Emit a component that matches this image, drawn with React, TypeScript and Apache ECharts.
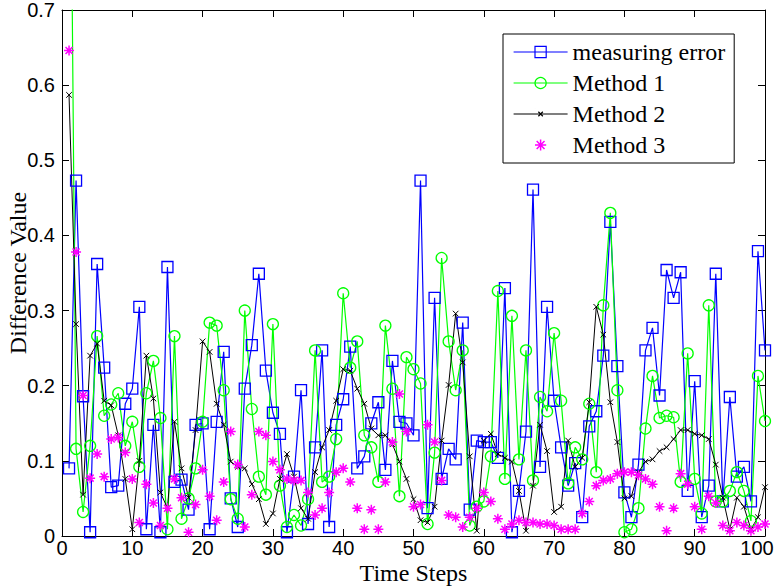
import React, { useEffect, useRef } from 'react';
import * as echarts from 'echarts';

// Time steps 1..100
const measuringError = [
  0.090, 0.473, 0.186, 0.005, 0.362, 0.224, 0.065, 0.067, 0.176, 0.196,
  0.305, 0.009, 0.148, 0.005, 0.358, 0.072, 0.075, 0.035, 0.148, 0.150,
  0.009, 0.152, 0.245, 0.050, 0.012, 0.196, 0.254, 0.349, 0.220, 0.164,
  0.136, 0.005, 0.079, 0.194, 0.016, 0.118, 0.247, 0.012, 0.148, 0.182,
  0.252, 0.090, 0.106, 0.150, 0.178, 0.088, 0.233, 0.152, 0.150, 0.134,
  0.473, 0.037, 0.317, 0.076, 0.116, 0.102, 0.284, 0.035, 0.127, 0.125,
  0.125, 0.104, 0.330, 0.005, 0.060, 0.139, 0.461, 0.092, 0.305, 0.180,
  0.118, 0.067, 0.097, 0.025, 0.146, 0.166, 0.240, 0.418, 0.226, 0.058,
  0.025, 0.095, 0.247, 0.277, 0.187, 0.354, 0.317, 0.351, 0.060, 0.206,
  0.025, 0.067, 0.349, 0.046, 0.185, 0.079, 0.092, 0.046, 0.379, 0.247,
];

const method1 = [
  1.200, 0.116, 0.032, 0.120, 0.266, 0.160, 0.175, 0.190, 0.120, 0.152,
  0.092, 0.190, 0.233, 0.157, 0.009, 0.266, 0.023, 0.050, 0.090, 0.152,
  0.284, 0.280, 0.194, 0.049, 0.023, 0.300, 0.169, 0.079, 0.055, 0.282,
  0.067, 0.012, 0.028, 0.014, 0.049, 0.247, 0.072, 0.079, 0.129, 0.323,
  0.224, 0.259, 0.134, 0.118, 0.072, 0.280, 0.196, 0.053, 0.238, 0.222,
  0.203, 0.016, 0.111, 0.370, 0.259, 0.194, 0.247, 0.014, 0.039, 0.046,
  0.106, 0.326, 0.076, 0.293, 0.102, 0.247, 0.074, 0.185, 0.166, 0.270,
  0.180, 0.070, 0.118, 0.102, 0.176, 0.085, 0.307, 0.430, 0.194, 0.005,
  0.009, 0.037, 0.143, 0.213, 0.157, 0.160, 0.158, 0.072, 0.243, 0.076,
  0.030, 0.307, 0.046, 0.046, 0.060, 0.085, 0.060, 0.020, 0.213, 0.153,
];

const method2 = [
  0.587, 0.282, 0.055, 0.240, 0.256, 0.180, 0.174, 0.134, 0.076, 0.009,
  0.100, 0.240, 0.183, 0.058, 0.037, 0.152, 0.090, 0.051, 0.141, 0.259,
  0.245, 0.176, 0.148, 0.099, 0.092, 0.090, 0.069, 0.049, 0.016, 0.030,
  0.076, 0.109, 0.079, 0.037, 0.023, 0.085, 0.118, 0.141, 0.180, 0.222,
  0.220, 0.196, 0.176, 0.143, 0.134, 0.134, 0.122, 0.099, 0.076, 0.049,
  0.021, 0.018, 0.039, 0.127, 0.201, 0.296, 0.231, 0.106, 0.007, 0.127,
  0.136, 0.109, 0.104, 0.099, 0.060, 0.007, 0.067, 0.148, 0.113, 0.032,
  0.039, 0.127, 0.092, 0.104, 0.178, 0.305, 0.268, 0.178, 0.125, 0.050,
  0.053, 0.085, 0.099, 0.102, 0.113, 0.118, 0.129, 0.141, 0.141, 0.136,
  0.134, 0.129, 0.095, 0.051, 0.009, 0.051, 0.039, 0.009, 0.025, 0.065,
];

const method3 = [
  0.646, 0.378, 0.187, 0.077, 0.109, 0.079, 0.129, 0.131, 0.111, 0.076,
  0.018, 0.069, 0.044, 0.014, 0.037, 0.076, 0.051, 0.005, 0.042, 0.088,
  0.053, 0.021, 0.072, 0.139, 0.095, 0.012, 0.055, 0.139, 0.134, 0.099,
  0.088, 0.076, 0.074, 0.074, 0.058, 0.028, 0.037, 0.058, 0.085, 0.090,
  0.072, 0.037, 0.009, 0.035, 0.009, 0.072, 0.125, 0.189, 0.139, 0.039,
  0.042, 0.148, 0.125, 0.074, 0.028, 0.025, 0.012, 0.025, 0.037, 0.058,
  0.046, 0.023, 0.009, 0.016, 0.021, 0.018, 0.018, 0.016, 0.016, 0.014,
  0.009, 0.009, 0.009, 0.030, 0.046, 0.067, 0.074, 0.076, 0.083, 0.085,
  0.085, 0.081, 0.076, 0.069, 0.039, 0.007, 0.037, 0.083, 0.069, 0.039,
  0.009, 0.053, 0.044, 0.014, 0.007, 0.018, 0.014, 0.007, 0.012, 0.016,
];

const seriesNames = ['measuring error', 'Method 1', 'Method 2', 'Method 3'];
const xTicks = { min: 0, max: 100, interval: 10 };
const yTicks = { min: 0, max: 0.7, interval: 0.1 };

const toPoints = (arr: number[]) => arr.map((v, i) => [i + 1, v]);

const X_SYMBOL = 'path://M0,0L0.01,0M3,3L7,7M7,3L3,7M10,10L9.99,10';
const STAR_SYMBOL = 'path://M5,0L5,10M0,5L10,5M1.5,1.5L8.5,8.5M8.5,1.5L1.5,8.5';

const sansFont = 'Liberation Sans, Arial, sans-serif';
const serifFont = 'Liberation Serif, Times New Roman, serif';

export default function App() {
  const ref = useRef<HTMLDivElement>(null);

  useEffect(() => {
    if (!ref.current) return;
    const chart = echarts.init(ref.current, null, { renderer: 'svg' });

    const axisCommon = {
      type: 'value' as const,
      axisLine: { show: true, onZero: false, lineStyle: { color: '#000', width: 1 } },
      axisTick: { show: true, inside: true, length: 7, lineStyle: { color: '#000', width: 1 } },
      splitLine: { show: false },
    };

    chart.setOption({
      animation: false,
      backgroundColor: '#fff',
      grid: { left: 62, right: 10, top: 10, bottom: 51, containLabel: false, outerBoundsMode: 'none' },
      xAxis: [
        {
          ...axisCommon,
          position: 'bottom',
          ...xTicks,
          axisLabel: {
            color: '#000',
            fontFamily: sansFont,
            fontSize: 20,
            margin: 2,
            formatter: (v: number) => (v === xTicks.max ? `{last|${v}}` : String(v)),
            rich: {
              last: { color: '#000', fontFamily: sansFont, fontSize: 20, padding: [0, 16, 0, 0] },
            },
          },
          name: 'Time Steps',
          nameLocation: 'middle',
          nameGap: 25,
          nameMoveOverlap: false,
          nameTextStyle: { color: '#000', fontFamily: serifFont, fontSize: 24 },
        },
        {
          ...axisCommon,
          position: 'top',
          ...xTicks,
          axisLabel: { show: false },
        },
      ],
      yAxis: [
        {
          ...axisCommon,
          position: 'left',
          ...yTicks,
          axisLabel: { color: '#000', fontFamily: sansFont, fontSize: 20, margin: 7 },
          name: 'Difference Value',
          nameLocation: 'middle',
          nameGap: 32,
          nameRotate: 90,
          nameMoveOverlap: false,
          nameTextStyle: { color: '#000', fontFamily: serifFont, fontSize: 24 },
        },
        {
          ...axisCommon,
          position: 'right',
          ...yTicks,
          axisLabel: { show: false },
        },
      ],
      legend: {
        orient: 'vertical',
        left: 503,
        top: 34,
        itemWidth: 54,
        itemHeight: 14,
        itemGap: 7,
        padding: [6, 9, 6, 10],
        borderColor: '#000',
        borderWidth: 1,
        borderRadius: 0,
        backgroundColor: '#fff',
        selectedMode: false,
        textStyle: { color: '#000', fontFamily: serifFont, fontSize: 24 },
        lineStyle: { width: 1.2 },
        itemStyle: { borderWidth: 1.2 },
        data: [
          seriesNames[0],
          seriesNames[1],
          seriesNames[2],
          { name: seriesNames[3], lineStyle: { width: 0, opacity: 0 }, itemStyle: { borderWidth: 1.5 } },
        ],
      },
      series: [
        {
          name: seriesNames[0],
          type: 'line',
          data: toPoints(measuringError),
          symbol: 'rect',
          symbolSize: 11,
          lineStyle: { color: '#0000ff', width: 1.2 },
          itemStyle: { color: 'rgba(0,0,0,0)', borderColor: '#0000ff', borderWidth: 1.3 },
          emphasis: { disabled: true },
        },
        {
          name: seriesNames[1],
          type: 'line',
          data: toPoints(method1),
          symbol: 'circle',
          symbolSize: 11,
          lineStyle: { color: '#00ff00', width: 1.2 },
          itemStyle: { color: 'rgba(0,0,0,0)', borderColor: '#00ff00', borderWidth: 1.3 },
          emphasis: { disabled: true },
        },
        {
          name: seriesNames[2],
          type: 'line',
          data: toPoints(method2),
          symbol: X_SYMBOL,
          symbolSize: 14,
          lineStyle: { color: '#000000', width: 1 },
          itemStyle: { color: 'rgba(0,0,0,0)', borderColor: '#000000', borderWidth: 1 },
          emphasis: { disabled: true },
        },
        {
          name: seriesNames[3],
          type: 'line',
          data: toPoints(method3),
          symbol: STAR_SYMBOL,
          symbolSize: 10,
          lineStyle: { color: '#ff00ff', width: 0, opacity: 0 },
          itemStyle: { color: 'rgba(0,0,0,0)', borderColor: '#ff00ff', borderWidth: 1.5 },
          emphasis: { disabled: true },
        },
      ],
    });

    return () => chart.dispose();
  }, []);

  return (
    <div
      ref={ref}
      style={{ position: 'absolute', left: 0, top: 0, width: 775, height: 587, background: '#fff' }}
    />
  );
}
